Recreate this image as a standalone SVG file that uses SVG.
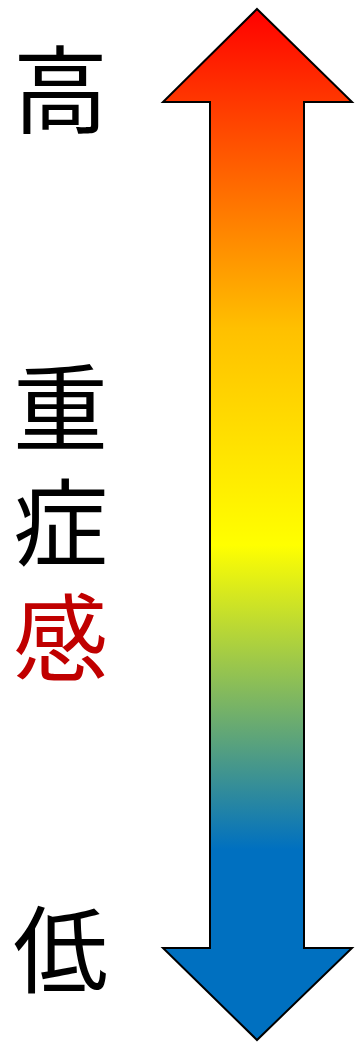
<svg xmlns="http://www.w3.org/2000/svg" width="357" height="1042" viewBox="0 0 357 1042">
  <defs>
    <linearGradient id="grad" gradientUnits="userSpaceOnUse" x1="0" y1="9" x2="0" y2="1040">
      <stop offset="0" stop-color="#FF0000"/>
      <stop offset="0.31" stop-color="#FFC000"/>
      <stop offset="0.52" stop-color="#FFFF00"/>
      <stop offset="0.815" stop-color="#0070C0"/>
      <stop offset="1" stop-color="#0070C0"/>
    </linearGradient>
    <style>
      .lbl { font-family: "Liberation Sans", "Noto Sans CJK JP", "Noto Sans CJK SC", sans-serif; font-size: 95px; fill: #000000; }
      .red { fill: #C00000; }
    </style>
  </defs>
  <g id="arrow">
    <polygon points="257,9 352,102 304,102 304,948 352,948 257,1040 163,948 210,948 210,102 163,102" fill="url(#grad)" stroke="#000000" stroke-width="2" stroke-linejoin="miter"/>
  </g>
  <g id="label-high">
    <text class="lbl" x="13" y="126">高</text>
  </g>
  <g id="label-severity">
    <text class="lbl" x="13" y="444">重</text>
    <text class="lbl" x="13" y="559">症</text>
    <text class="lbl red" x="13" y="674">感</text>
  </g>
  <g id="label-low">
    <text class="lbl" x="13" y="986">低</text>
  </g>
</svg>
